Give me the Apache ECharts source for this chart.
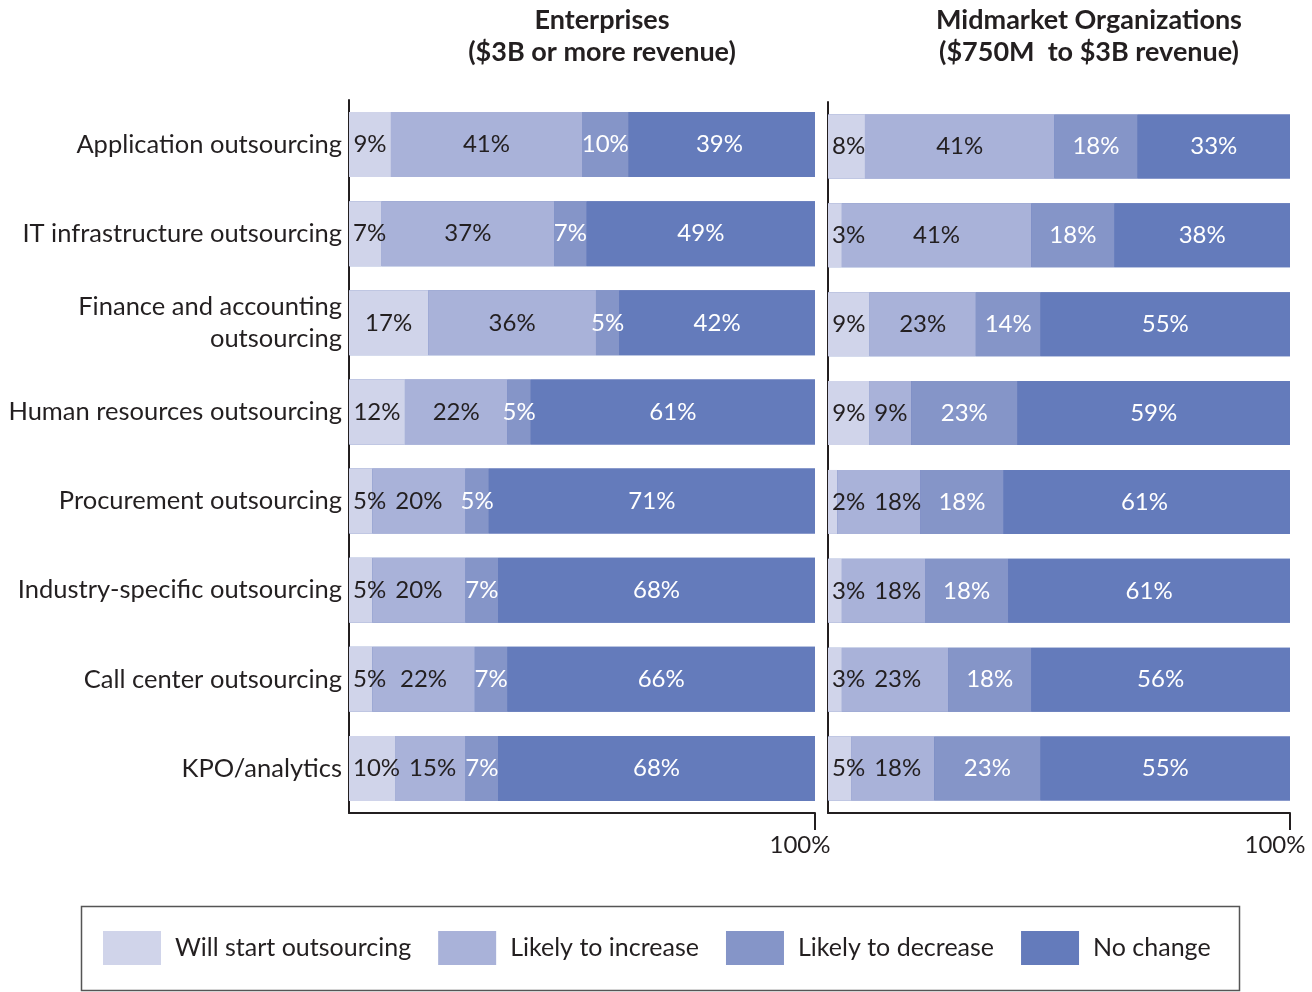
<!DOCTYPE html>
<html>
<head>
<meta charset="utf-8">
<script src="https://cdn.jsdelivr.net/npm/echarts@6/dist/echarts.min.js"></script>
<style>
html,body{margin:0;padding:0;background:#fff;}
#chart{width:1312px;height:992px;}
</style>
</head>
<body>
<div id="chart"></div>
<script>
const categories = [
  'Application outsourcing',
  'IT infrastructure outsourcing',
  'Finance and accounting\noutsourcing',
  'Human resources outsourcing',
  'Procurement outsourcing',
  'Industry-specific outsourcing',
  'Call center outsourcing',
  'KPO/analytics'
];
const seriesNames = ['Will start outsourcing', 'Likely to increase', 'Likely to decrease', 'No change'];
// Enterprises ($3B or more revenue)
const entStart    = [9, 7, 17, 12, 5, 5, 5, 10];
const entIncrease = [41, 37, 36, 22, 20, 20, 22, 15];
const entDecrease = [10, 7, 5, 5, 5, 7, 7, 7];
const entNoChange = [39, 49, 42, 61, 71, 68, 66, 68];
// Midmarket Organizations ($750M to $3B revenue)
const midStart    = [8, 3, 9, 9, 2, 3, 3, 5];
const midIncrease = [41, 41, 23, 9, 18, 18, 23, 18];
const midDecrease = [18, 18, 14, 23, 18, 18, 18, 23];
const midNoChange = [33, 38, 55, 59, 61, 61, 56, 55];
const axisTickLabels = [100];

const colors = ['#D0D4EA', '#A9B2D9', '#8595C8', '#647BBB'];
const labelColors = ['#231F20', '#231F20', '#ffffff', '#ffffff'];
const FONT = 'Lato';
const DARK = '#231F20';

const chart = echarts.init(document.getElementById('chart'));
const firstLabelRight = {};

function makeSeries(data, idx, axisIdx, bw) {
  const s = {
    name: seriesNames[idx],
    type: 'bar',
    stack: 'g' + axisIdx,
    xAxisIndex: axisIdx,
    yAxisIndex: axisIdx,
    barWidth: bw,
    data: data,
    itemStyle: { color: colors[idx] },
    label: {
      show: true,
      position: 'inside',
      formatter: '{c}%',
      color: labelColors[idx],
      fontFamily: FONT,
      fontSize: 24
    },
    emphasis: { disabled: true },
    animation: false
  };
  if (idx === 0) {
    // full 100% band behind the stack (rows whose rounded values sum to 99)
    s.showBackground = true;
    s.backgroundStyle = { color: colors[3] };
    // keep first-segment labels clear of the vertical axis line
    s.labelLayout = function (p) {
      const lr = p.labelRect;
      const minX = p.rect.x + 4;
      const key = axisIdx + '_' + p.dataIndex;
      if (lr.x < minX) {
        firstLabelRight[key] = minX + lr.width;
        return { x: minX, y: lr.y + lr.height / 2, align: 'left', verticalAlign: 'middle' };
      }
      firstLabelRight[key] = lr.x + lr.width;
      return {};
    };
  } else if (idx === 1) {
    // nudge second-segment labels right if they collide with the first label
    s.labelLayout = function (p) {
      const lr = p.labelRect;
      const key = axisIdx + '_' + p.dataIndex;
      const prev = firstLabelRight[key];
      if (prev !== undefined && lr.x < prev + 9) {
        return { x: prev + 9, y: lr.y + lr.height / 2, align: 'left', verticalAlign: 'middle' };
      }
      return {};
    };
  }
  return s;
}

const xAxisCommon = (gi) => ({
  type: 'value',
  gridIndex: gi,
  min: 0,
  max: 100,
  splitLine: { show: false },
  axisLine: { show: true, lineStyle: { color: DARK, width: 2 } },
  axisTick: { show: true, customValues: axisTickLabels, length: 17, lineStyle: { color: DARK, width: 2 } },
  axisLabel: { show: true, customValues: axisTickLabels, formatter: '{value}%', fontFamily: FONT, fontSize: 24, color: DARK, margin: 20, padding: [0, 30, 0, 0] }
});

const yAxisCommon = (gi, showLabels) => ({
  type: 'category',
  gridIndex: gi,
  data: categories,
  inverse: true,
  axisLine: { show: true, lineStyle: { color: DARK, width: 2 } },
  axisTick: { show: false },
  axisLabel: {
    show: showLabels,
    fontFamily: FONT,
    fontSize: 25.5,
    color: DARK,
    margin: 7,
    lineHeight: 32
  }
});

chart.setOption({
  animation: false,
  grid: [
    { left: 349, top: 100, width: 466, height: 713, outerBoundsMode: 'none', containLabel: false },
    { left: 828, top: 102, width: 462, height: 711, outerBoundsMode: 'none', containLabel: false }
  ],
  xAxis: [xAxisCommon(0), xAxisCommon(1)],
  yAxis: [yAxisCommon(0, true), yAxisCommon(1, false)],
  legend: {
    data: seriesNames,
    left: 98,
    top: 926,
    itemWidth: 58,
    itemHeight: 34,
    itemGap: 27,
    icon: 'rect',
    selectedMode: false,
    textStyle: { fontFamily: FONT, fontSize: 25, color: DARK, padding: [0, 0, 0, 9] }
  },
  graphic: [
    { type: 'rect', shape: { x: 81.5, y: 906.5, width: 1158, height: 84 }, style: { fill: 'none', stroke: '#555', lineWidth: 1.5 } },
    { type: 'text', style: { x: 602, y: 4, text: 'Enterprises\n($3B or more revenue)', textAlign: 'center', fontFamily: FONT, fontWeight: 'bold', fontSize: 27, lineHeight: 32, fill: DARK } },
    { type: 'text', style: { x: 1089, y: 4, text: 'Midmarket Organizations\n($750M  to $3B revenue)', textAlign: 'center', fontFamily: FONT, fontWeight: 'bold', fontSize: 27, lineHeight: 32, fill: DARK } }
  ],
  series: [
    makeSeries(entStart, 0, 0, 65),
    makeSeries(entIncrease, 1, 0, 65),
    makeSeries(entDecrease, 2, 0, 65),
    makeSeries(entNoChange, 3, 0, 65),
    makeSeries(midStart, 0, 1, 64),
    makeSeries(midIncrease, 1, 1, 64),
    makeSeries(midDecrease, 2, 1, 64),
    makeSeries(midNoChange, 3, 1, 64)
  ]
});
</script>
</body>
</html>
